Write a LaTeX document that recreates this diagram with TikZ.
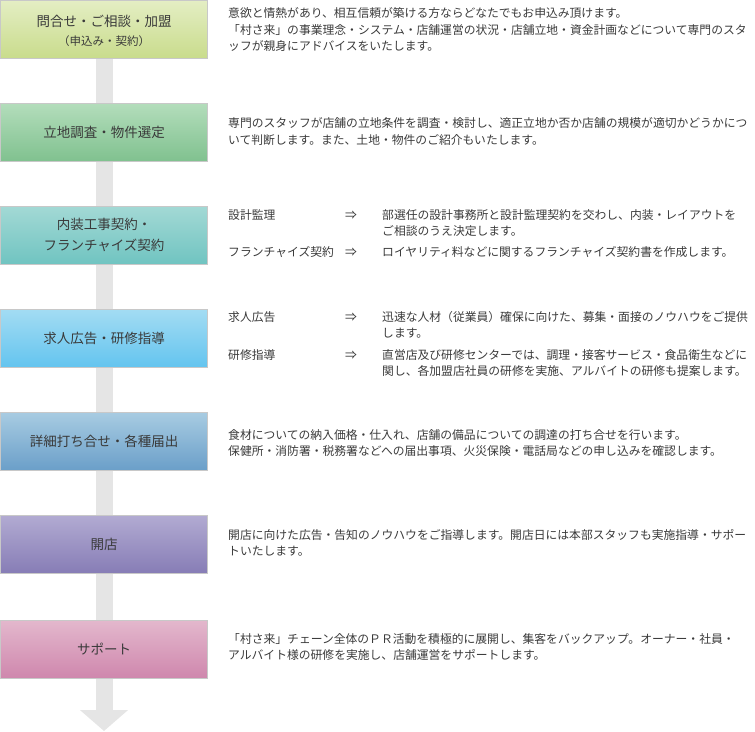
\documentclass[tikz,border=0pt]{standalone}
\usepackage{fontspec}
\setmainfont{Noto Sans CJK JP}
\usetikzlibrary{arrows.meta}
\pgfdeclarelayer{bg}
\pgfsetlayers{bg,main}
\definecolor{txt}{HTML}{3A3A3A}
\definecolor{boxborder}{HTML}{C8C8C8}
\definecolor{barg}{HTML}{E5E5E5}
\definecolor{cAt}{HTML}{E4EEC4}\definecolor{cAb}{HTML}{C9DC8C}
\definecolor{cBt}{HTML}{B3DDBB}\definecolor{cBb}{HTML}{80C18F}
\definecolor{cCt}{HTML}{A3D9D5}\definecolor{cCb}{HTML}{70C4C1}
\definecolor{cDt}{HTML}{A3DCF3}\definecolor{cDb}{HTML}{63C4EF}
\definecolor{cEt}{HTML}{A8CCE2}\definecolor{cEb}{HTML}{6B9FC9}
\definecolor{cFt}{HTML}{B2ABD2}\definecolor{cFb}{HTML}{877DB6}
\definecolor{cGt}{HTML}{E3B8CD}\definecolor{cGb}{HTML}{CF87AD}
\newcommand\mytitlefont{\fontsize{13.5}{21}\selectfont}
\newcommand\mybodyfont{\fontsize{11.8}{16.5}\selectfont}
\newcommand\mysubfont{\fontsize{11.5}{16}\selectfont}
\tikzset{
  stepbox/.style={draw=boxborder, line width=0.8pt, minimum width=207pt,
    minimum height=58pt, inner sep=0pt, align=center, font=\mytitlefont, text=txt},
  desc/.style={anchor=west, align=left, inner sep=0pt, font=\mybodyfont, text=txt},
  flowbar/.style={line width=17pt, draw=barg, -{Triangle[width=47pt,length=21pt]}},
}
\begin{document}
\begin{tikzpicture}[x=1pt,y=-1pt]
\useasboundingbox (0,0) rectangle (755,731);
% boxes
\node[stepbox, top color=cAt, bottom color=cAb] (b1) at (104,29) {};
\node[align=center, inner sep=0pt, font=\mytitlefont, text=txt] (b1t) at (104,31)
  {問合せ・ご相談・加盟\\[-2pt]{\mysubfont （申込み・契約）}};
\node[stepbox, top color=cBt, bottom color=cBb] (b2) at (104,132.5) {立地調査・物件選定};
\node[stepbox, top color=cCt, bottom color=cCb] (b3) at (104,235) {内装工事契約・\\フランチャイズ契約};
\node[stepbox, top color=cDt, bottom color=cDb] (b4) at (104,338.5) {求人広告・研修指導};
\node[stepbox, top color=cEt, bottom color=cEb] (b5) at (104,441) {詳細打ち合せ・各種届出};
\node[stepbox, top color=cFt, bottom color=cFb] (b6) at (104,544) {開店};
\node[stepbox, top color=cGt, bottom color=cGb] (b7) at (104,649) {サポート};
\coordinate (tip) at (104,731);
\begin{pgfonlayer}{bg}
\draw[flowbar] (b1.center) -- (tip);
\end{pgfonlayer}
% descriptions
\node[desc] (t1) at (228,29.5) {意欲と情熱があり、相互信頼が築ける方ならどなたでもお申込み頂けます。\\「村さ来」の事業理念・システム・店舗運営の状況・店舗立地・資金計画などについて専門のスタ\\ッフが親身にアドバイスをいたします。};
\node[desc] (t2) at (228,131.5) {専門のスタッフが店舗の立地条件を調査・検討し、適正立地か否か店舗の規模が適切かどうかにつ\\いて判断します。また、土地・物件のご紹介もいたします。};
\node[desc] (t3a) at (228,215) {設計監理};
\node[desc] (t3b) at (345,215) {⇒};
\node[desc] (t3c) at (382,223) {部選任の設計事務所と設計監理契約を交わし、内装・レイアウトを\\ご相談のうえ決定します。};
\node[desc] (t3d) at (228,252) {フランチャイズ契約};
\node[desc] (t3e) at (345,252) {⇒};
\node[desc] (t3f) at (382,252) {ロイヤリティ料などに関するフランチャイズ契約書を作成します。};
\node[desc] (t4a) at (228,317) {求人広告};
\node[desc] (t4b) at (345,317) {⇒};
\node[desc] (t4c) at (382,325) {迅速な人材（従業員）確保に向けた、募集・面接のノウハウをご提供\\します。};
\node[desc] (t4d) at (228,355) {研修指導};
\node[desc] (t4e) at (345,355) {⇒};
\node[desc] (t4f) at (382,363) {直営店及び研修センターでは、調理・接客サービス・食品衛生などに\\関し、各加盟店社員の研修を実施、アルバイトの研修も提案します。};
\node[desc] (t5) at (228,443) {食材についての納入価格・仕入れ、店舗の備品についての調達の打ち合せを行います。\\保健所・消防署・税務署などへの届出事項、火災保険・電話局などの申し込みを確認します。};
\node[desc] (t6) at (228,543) {開店に向けた広告・告知のノウハウをご指導します。開店日には本部スタッフも実施指導・サポー\\トいたします。};
\node[desc] (t7) at (228,647) {「村さ来」チェーン全体のＰＲ活動を積極的に展開し、集客をバックアップ。オーナー・社員・\\アルバイト様の研修を実施し、店舗運営をサポートします。};
\end{tikzpicture}
\end{document}
